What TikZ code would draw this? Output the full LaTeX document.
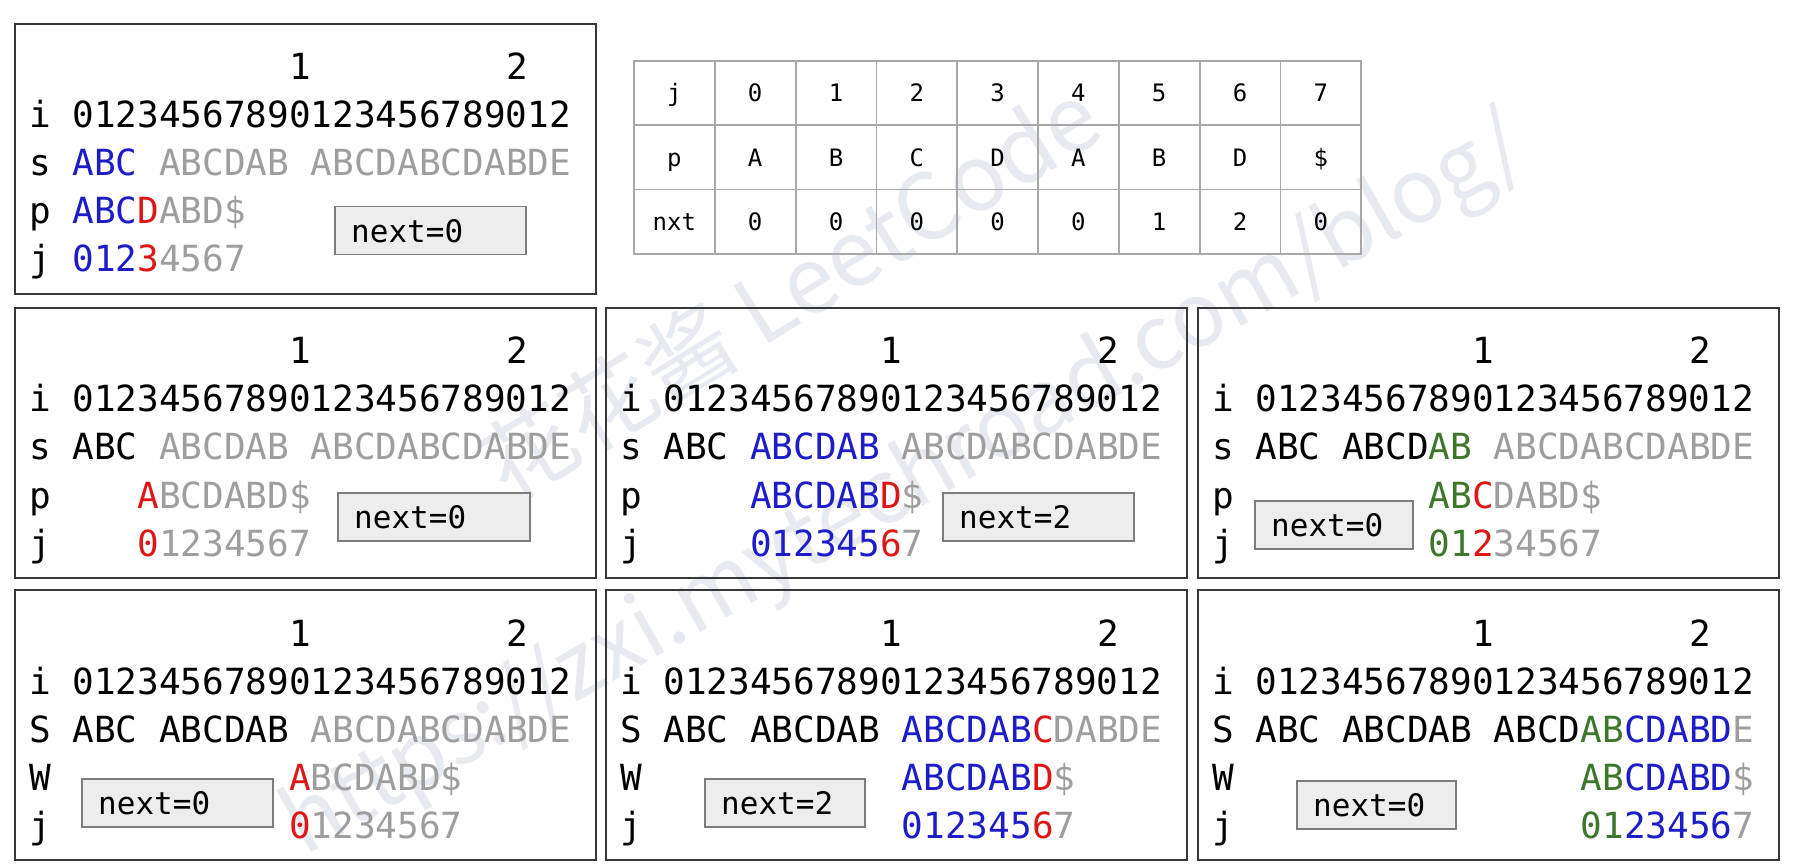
\documentclass[tikz,border=0pt]{standalone}
\usepackage{fontspec}
\newfontfamily\mono{DejaVu Sans Mono}
\newfontfamily\wmfont{Noto Sans CJK SC}
\definecolor{kblue}{RGB}{28,28,200}
\definecolor{kred}{RGB}{222,22,22}
\definecolor{kgray}{RGB}{158,158,158}
\definecolor{kgreen}{RGB}{62,118,44}
\definecolor{wmcol}{RGB}{231,235,241}
\definecolor{framecol}{RGB}{55,55,55}
\definecolor{nbdraw}{RGB}{125,125,125}
\definecolor{nbfill}{RGB}{237,237,237}
\definecolor{tgray}{RGB}{168,168,168}
\newlength\cwd
\setlength\cwd{21.674pt}
\newcommand\gp[1]{\hspace*{#1\cwd}}
\newcommand\kb[1]{\textcolor{kblue}{#1}}
\newcommand\kr[1]{\textcolor{kred}{#1}}
\newcommand\kg[1]{\textcolor{kgray}{#1}}
\newcommand\kn[1]{\textcolor{kgreen}{#1}}
\tikzset{
  panel/.style={draw=framecol, line width=2pt, minimum width=581pt, minimum height=270pt, anchor=north west, inner sep=0pt},
  txt/.style={anchor=base west, inner sep=0pt, font=\mono\fontsize{36}{36}\selectfont},
  nbox/.style={draw=nbdraw, fill=nbfill, line width=1.5pt, anchor=north west, inner sep=0pt, minimum height=48pt},
  nlbl/.style={anchor=west, inner sep=0pt, font=\mono\fontsize{31}{31}\selectfont},
  cell/.style={draw=tgray, line width=1.8pt, minimum width=80.8pt, minimum height=64.3pt, inner sep=0pt, text height=17.5pt, text depth=0pt, font=\mono\fontsize{24}{24}\selectfont},
  wmk/.style={inner sep=0pt, text=wmcol, font=\wmfont\fontsize{#1}{#1}\selectfont}
}
\newcommand\rows[4]{%
  \node[panel] (#1) at (0,0) {};
  \node[txt] (#1-r0) at (15,57) {\gp{12}1\gp{9}2};
  \node[txt] (#1-r1) at (15,105) {i\gp{1}01234567890123456789012};
  \node[txt] (#1-r2) at (15,153) {#2};
  \node[txt] (#1-r3) at (15,201) {#3};
  \node[txt] (#1-r4) at (15,249) {#4};
}
\newcommand\nextbox[5]{%
  \node[nbox, minimum width=#4pt] (#1-nb) at (#2,#3) {};
  \node[nlbl] (#1-nt) at ([xshift=17pt]#1-nb.west) {#5};
}
\begin{document}
\begin{tikzpicture}[x=1pt, y=-1pt]
\useasboundingbox (0,0) rectangle (1794,866);
\fill[white] (0,0) rectangle (1794,866);
% watermarks
\node[wmk=92, rotate=31.6] (wm1) at (790,290) {花花酱 LeetCode};
\node[wmk=89, rotate=29.5] (wm2) at (906,488) {https://zxi.mytechroad.com/blog/};
% table
\foreach [count=\c from 0] \v in {j,0,1,2,3,4,5,6,7}
  \node[cell] (ta-\c) at (674.4+80.8*\c, 93.15) {\v};
\foreach [count=\c from 0] \v in {p,A,B,C,D,A,B,D,\$}
  \node[cell] (tb-\c) at (674.4+80.8*\c, 157.45) {\v};
\foreach [count=\c from 0] \v in {nxt,0,0,0,0,0,1,2,0}
  \node[cell] (tc-\c) at (674.4+80.8*\c, 221.75) {\v};
% panel 1
\begin{scope}[shift={(14,23)}]
\rows{pa}{s\gp1\kb{ABC}\gp1\kg{ABCDAB}\gp1\kg{ABCDABCDABDE}}
        {p\gp1\kb{ABC}\kr{D}\kg{ABD\$}}
        {j\gp1\kb{012}\kr{3}\kg{4567}}
\nextbox{pa}{320}{183}{191}{next=0}
\end{scope}
% panel 2a
\begin{scope}[shift={(14,307)}]
\rows{pb}{s\gp1ABC\gp1\kg{ABCDAB}\gp1\kg{ABCDABCDABDE}}
        {p\gp4\kr{A}\kg{BCDABD\$}}
        {j\gp4\kr{0}\kg{1234567}}
\nextbox{pb}{323}{185}{192}{next=0}
\end{scope}
% panel 2b
\begin{scope}[shift={(605,307)}]
\rows{pc}{s\gp1ABC\gp1\kb{ABCDAB}\gp1\kg{ABCDABCDABDE}}
        {p\gp5\kb{ABCDAB}\kr{D}\kg{\$}}
        {j\gp5\kb{012345}\kr{6}\kg{7}}
\nextbox{pc}{337}{185}{191}{next=2}
\end{scope}
% panel 2c
\begin{scope}[shift={(1197,307)}]
\rows{pd}{s\gp1ABC\gp1ABCD\kn{AB}\gp1\kg{ABCDABCDABDE}}
        {p\gp9\kn{AB}\kr{C}\kg{DABD\$}}
        {j\gp9\kn{01}\kr{2}\kg{34567}}
\nextbox{pd}{57}{193}{158}{next=0}
\end{scope}
% panel 3a
\begin{scope}[shift={(14,589)}]
\rows{pe}{S\gp1ABC\gp1ABCDAB\gp1\kg{ABCDABCDABDE}}
        {W\gp{11}\kr{A}\kg{BCDABD\$}}
        {j\gp{11}\kr{0}\kg{1234567}}
\nextbox{pe}{67}{189}{191}{next=0}
\end{scope}
% panel 3b
\begin{scope}[shift={(605,589)}]
\rows{pf}{S\gp1ABC\gp1ABCDAB\gp1\kb{ABCDAB}\kr{C}\kg{DABDE}}
        {W\gp{12}\kb{ABCDAB}\kr{D}\kg{\$}}
        {j\gp{12}\kb{012345}\kr{6}\kg{7}}
\nextbox{pf}{99}{189}{160}{next=2}
\end{scope}
% panel 3c
\begin{scope}[shift={(1197,589)}]
\rows{pg}{S\gp1ABC\gp1ABCDAB\gp1ABCD\kn{AB}\kb{CDABD}\kg{E}}
        {W\gp{16}\kn{AB}\kb{CDABD}\kg{\$}}
        {j\gp{16}\kn{01}\kb{23456}\kg{7}}
\nextbox{pg}{99}{191}{159}{next=0}
\end{scope}
\end{tikzpicture}
\end{document}
